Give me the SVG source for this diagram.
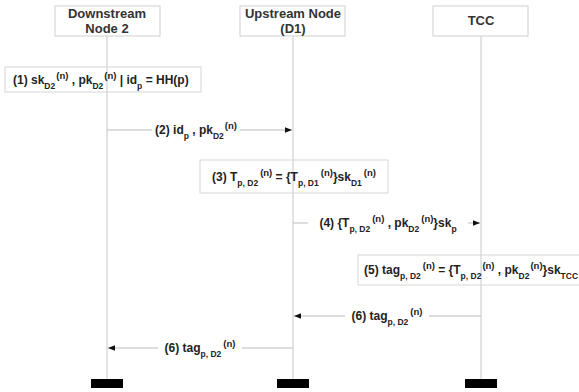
<svg xmlns="http://www.w3.org/2000/svg" width="579" height="392" viewBox="0 0 579 392">
<style>
text{font-family:"Liberation Sans",Arial,sans-serif;font-weight:bold;fill:#222}
.hdr{font-size:13px;text-anchor:middle;fill:#333}
.lbl{font-size:12px}
.s{font-size:8.5px}
.u{font-size:9.5px}
.box{fill:#fff;stroke:#cfcfcf;stroke-width:1}
.note{fill:none;stroke:#d6d6d6;stroke-width:1}
.life{stroke:#c8c8c8;stroke-width:1}
.msg{stroke:#bbb;stroke-width:1;fill:none}
.bar{fill:#000}
.bg{fill:#fff}
</style>
<defs>
<marker id="ah" viewBox="0 0 10 10" refX="10" refY="5" markerWidth="7" markerHeight="7" orient="auto-start-reverse" markerUnits="userSpaceOnUse">
<path d="M0,1 L10,5 L0,9 Z" fill="#111"/>
</marker>
</defs>
<g id="lifelines">
<line class="life" x1="107" y1="36" x2="107" y2="379"/>
<line class="life" x1="293" y1="36" x2="293" y2="379"/>
<line class="life" x1="481" y1="36" x2="481" y2="379"/>
</g>
<g id="node-downstream">
<rect class="box" x="55" y="6" width="105" height="30"/>
<text class="hdr" x="107" y="18">Downstream</text>
<text class="hdr" x="107" y="33">Node 2</text>
<rect class="bar" x="91" y="379" width="32" height="9"/>
</g>
<g id="node-upstream">
<rect class="box" x="240" y="6" width="105" height="30"/>
<text class="hdr" x="293" y="18">Upstream Node</text>
<text class="hdr" x="293" y="33">(D1)</text>
<rect class="bar" x="277" y="379" width="32" height="9"/>
</g>
<g id="node-tcc">
<rect class="box" x="433" y="6" width="95" height="30"/>
<text class="hdr" x="481" y="25">TCC</text>
<rect class="bar" x="465" y="379" width="32" height="9"/>
</g>
<g id="note1">
<rect class="note" x="5" y="67" width="196" height="25"/>
<text class="lbl" x="13" y="84">(1) sk<tspan class="s" baseline-shift="sub">D2</tspan><tspan class="u" dx="1" baseline-shift="super">(n)</tspan> , pk<tspan class="s" baseline-shift="sub">D2</tspan><tspan class="u" dx="1" baseline-shift="super">(n)</tspan> | id<tspan class="s" baseline-shift="sub">p</tspan> = HH(p)</text>
</g>
<g id="note3">
<rect class="note" x="200" y="160" width="188" height="33"/>
<text class="lbl" x="212" y="181">(3) T<tspan class="s" baseline-shift="sub">p, D2</tspan><tspan class="u" dx="2" baseline-shift="super">(n)</tspan> = {T<tspan class="s" baseline-shift="sub">p, D1</tspan><tspan class="u" dx="2" baseline-shift="super">(n)</tspan>}sk<tspan class="s" baseline-shift="sub">D1</tspan><tspan class="u" dx="2" baseline-shift="super">(n)</tspan></text>
</g>
<g id="note5">
<rect class="note" x="358" y="255" width="240" height="30"/>
<text class="lbl" x="364" y="274">(5) tag<tspan class="s" baseline-shift="sub">p, D2</tspan><tspan class="u" dx="2" baseline-shift="super">(n)</tspan> = {T<tspan class="s" baseline-shift="sub">p, D2</tspan><tspan class="u" dx="1" baseline-shift="super">(n)</tspan> , pk<tspan class="s" baseline-shift="sub">D2</tspan><tspan class="u" dx="1" baseline-shift="super">(n)</tspan>}sk<tspan class="s" baseline-shift="sub">TCC</tspan></text>
</g>
<g id="connectors">
<line class="msg" x1="107" y1="130" x2="292" y2="130" marker-end="url(#ah)"/>
<rect class="bg" x="152" y="123" width="88" height="13"/>
<text class="lbl" x="196" y="134" text-anchor="middle">(2) id<tspan class="s" baseline-shift="sub">p</tspan> , pk<tspan class="s" baseline-shift="sub">D2</tspan><tspan class="u" dx="1" baseline-shift="super">(n)</tspan></text>
<line class="msg" x1="293" y1="223" x2="480" y2="223" marker-end="url(#ah)"/>
<rect class="bg" x="308" y="216" width="160" height="13"/>
<text class="lbl" x="388" y="227" text-anchor="middle">(4) {T<tspan class="s" baseline-shift="sub">p, D2</tspan><tspan class="u" dx="2" baseline-shift="super">(n)</tspan> , pk<tspan class="s" baseline-shift="sub">D2</tspan><tspan class="u" dx="2" baseline-shift="super">(n)</tspan>}sk<tspan class="s" baseline-shift="sub">p</tspan></text>
<line class="msg" x1="481" y1="316" x2="294" y2="316" marker-end="url(#ah)"/>
<rect class="bg" x="345" y="309" width="84" height="13"/>
<text class="lbl" x="387" y="320" text-anchor="middle">(6) tag<tspan class="s" baseline-shift="sub">p, D2</tspan><tspan class="u" dx="2" baseline-shift="super">(n)</tspan></text>
<line class="msg" x1="293" y1="348" x2="108" y2="348" marker-end="url(#ah)"/>
<rect class="bg" x="158" y="341" width="84" height="13"/>
<text class="lbl" x="200" y="352" text-anchor="middle">(6) tag<tspan class="s" baseline-shift="sub">p, D2</tspan><tspan class="u" dx="2" baseline-shift="super">(n)</tspan></text>
</g>
</svg>
